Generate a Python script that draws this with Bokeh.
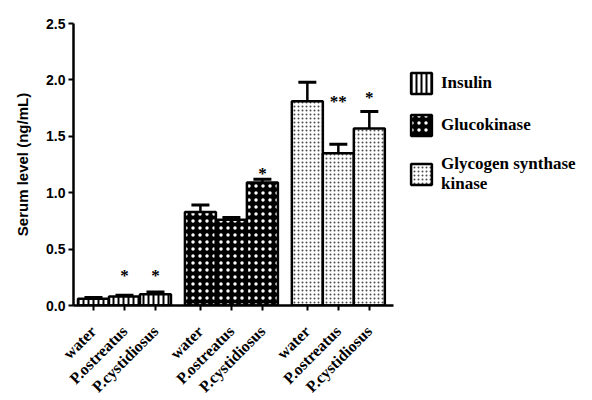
import math
from bokeh.plotting import figure
from bokeh.models import (ColumnDataSource, Whisker, FixedTicker, Legend, LegendItem,
                          TeeHead, PrintfTickFormatter)
from bokeh.core.properties import value
from bokeh.embed import file_html
from bokeh.resources import INLINE

# ---- data ----
treatments = ["water", "P.ostreatus", "P.cystidiosus"]
markers = ["Insulin", "Glucokinase", "Glycogen synthase\nkinase"]
insulin_mean = [0.06, 0.08, 0.10]
insulin_err = [0.01, 0.01, 0.02]
glucokinase_mean = [0.83, 0.76, 1.09]
glucokinase_err = [0.06, 0.02, 0.03]
gsk_mean = [1.81, 1.35, 1.57]
gsk_err = [0.17, 0.08, 0.15]
insulin_sig = ["", "*", "*"]
glucokinase_sig = ["", "", "*"]
gsk_sig = ["", "**", "*"]
insulin_sig_y = [0.0, 0.27, 0.27]
glucokinase_sig_y = [0.0, 0.0, 1.17]
gsk_sig_y = [0.0, 1.81, 1.84]
y_ticks = [0.0, 0.5, 1.0, 1.5, 2.0, 2.5]

series = [
    (insulin_mean, insulin_err, insulin_sig, insulin_sig_y,
     dict(fill_color="white", hatch_pattern="vertical_line", hatch_color="black",
          hatch_scale=5, hatch_weight=2)),
    (glucokinase_mean, glucokinase_err, glucokinase_sig, glucokinase_sig_y,
     dict(fill_color="black", hatch_pattern="dot", hatch_color="white",
          hatch_scale=7, hatch_weight=1)),
    (gsk_mean, gsk_err, gsk_sig, gsk_sig_y,
     dict(fill_color="white", hatch_pattern="dot", hatch_color="black",
          hatch_scale=4, hatch_weight=1, hatch_alpha=0.7)),
]

group_step = 3.45
p = figure(frame_width=320, frame_height=282, output_backend="svg", toolbar_location=None,
           x_range=(-0.645, 9.68), y_range=(0, 2.5),
           min_border_left=73, min_border_top=23, min_border_bottom=94, min_border_right=0)
p.outline_line_color = None
p.xgrid.visible = False
p.ygrid.visible = False
p.background_fill_color = "white"

tick_pos = []
tick_labels = {}
items = []
for g, (mean, err, sig, sig_y, style) in enumerate(series):
    xs = [g * group_step + i for i in range(len(treatments))]
    for x, t in zip(xs, treatments):
        tick_pos.append(x)
        tick_labels[x] = t
    src = ColumnDataSource(dict(x=xs, top=mean, upper=[m + e for m, e in zip(mean, err)],
                                lower=[m - e for m, e in zip(mean, err)]))
    r = p.vbar(x="x", top="top", bottom=0, width=1.0, source=src,
               line_color="black", line_width=2.5, **style)
    items.append(LegendItem(label=markers[g], renderers=[r]))
    w = Whisker(source=src, base="x", upper="upper", lower="lower",
                line_color="black", line_width=2.5,
                upper_head=TeeHead(size=18, line_width=3, line_color="black"),
                lower_head=TeeHead(size=18, line_width=3, line_color="black"))
    p.add_layout(w)
    sx = [x for x, s in zip(xs, sig) if s]
    sy = [y for y, s in zip(sig_y, sig) if s]
    st = [s for s in sig if s]
    p.text(x=sx, y=sy, text=st, text_align="center", text_baseline="middle",
           text_font=value("Liberation Serif"), text_font_style="bold",
           text_font_size="17px", text_color="black")

# axes
p.xaxis.ticker = FixedTicker(ticks=tick_pos)
p.xaxis.major_label_overrides = {k: v for k, v in tick_labels.items()}
p.xaxis.major_label_orientation = math.pi / 4
p.xaxis.major_label_text_font = "Liberation Serif"
p.xaxis.major_label_text_font_style = "bold"
p.xaxis.major_label_text_font_size = "16px"
p.xaxis.major_label_text_color = "black"
p.xaxis.minor_tick_line_color = None

p.yaxis.ticker = FixedTicker(ticks=y_ticks)
p.yaxis.formatter = PrintfTickFormatter(format="%.1f")
p.yaxis.major_label_text_font = "Liberation Sans"
p.yaxis.major_label_text_font_style = "bold"
p.yaxis.major_label_text_font_size = "14px"
p.yaxis.major_label_text_color = "black"
p.yaxis.axis_label = "Serum level (ng/mL)"
p.yaxis.axis_label_text_font = "Liberation Sans"
p.yaxis.axis_label_text_font_style = "bold"
p.yaxis.axis_label_text_font_size = "15px"
p.yaxis.axis_label_text_color = "black"
p.yaxis.axis_label_standoff = 12

for ax in (p.xaxis[0], p.yaxis[0]):
    ax.axis_line_width = 2.5
    ax.axis_line_color = "black"
    ax.major_tick_line_width = 2
    ax.major_tick_line_color = "black"
    ax.major_tick_out = 5
    ax.major_tick_in = 0
    ax.minor_tick_line_color = None
    ax.major_label_standoff = 3
p.xaxis.major_label_standoff = 18

legend = Legend(items=items, location=(15, 111))
legend.border_line_color = None
legend.background_fill_alpha = 0
legend.glyph_width = 26
legend.glyph_height = 26
legend.spacing = 16
legend.label_standoff = 7
legend.padding = 0
legend.margin = 0
legend.label_text_font = "Liberation Serif"
legend.label_text_font_style = "bold"
legend.label_text_font_size = "17px"
legend.label_text_line_height = 1.0
legend.label_text_color = "black"
legend.label_text_baseline = "middle"
p.add_layout(legend, "right")

with open("out.html", "w") as f:
    f.write(file_html(p, INLINE))
